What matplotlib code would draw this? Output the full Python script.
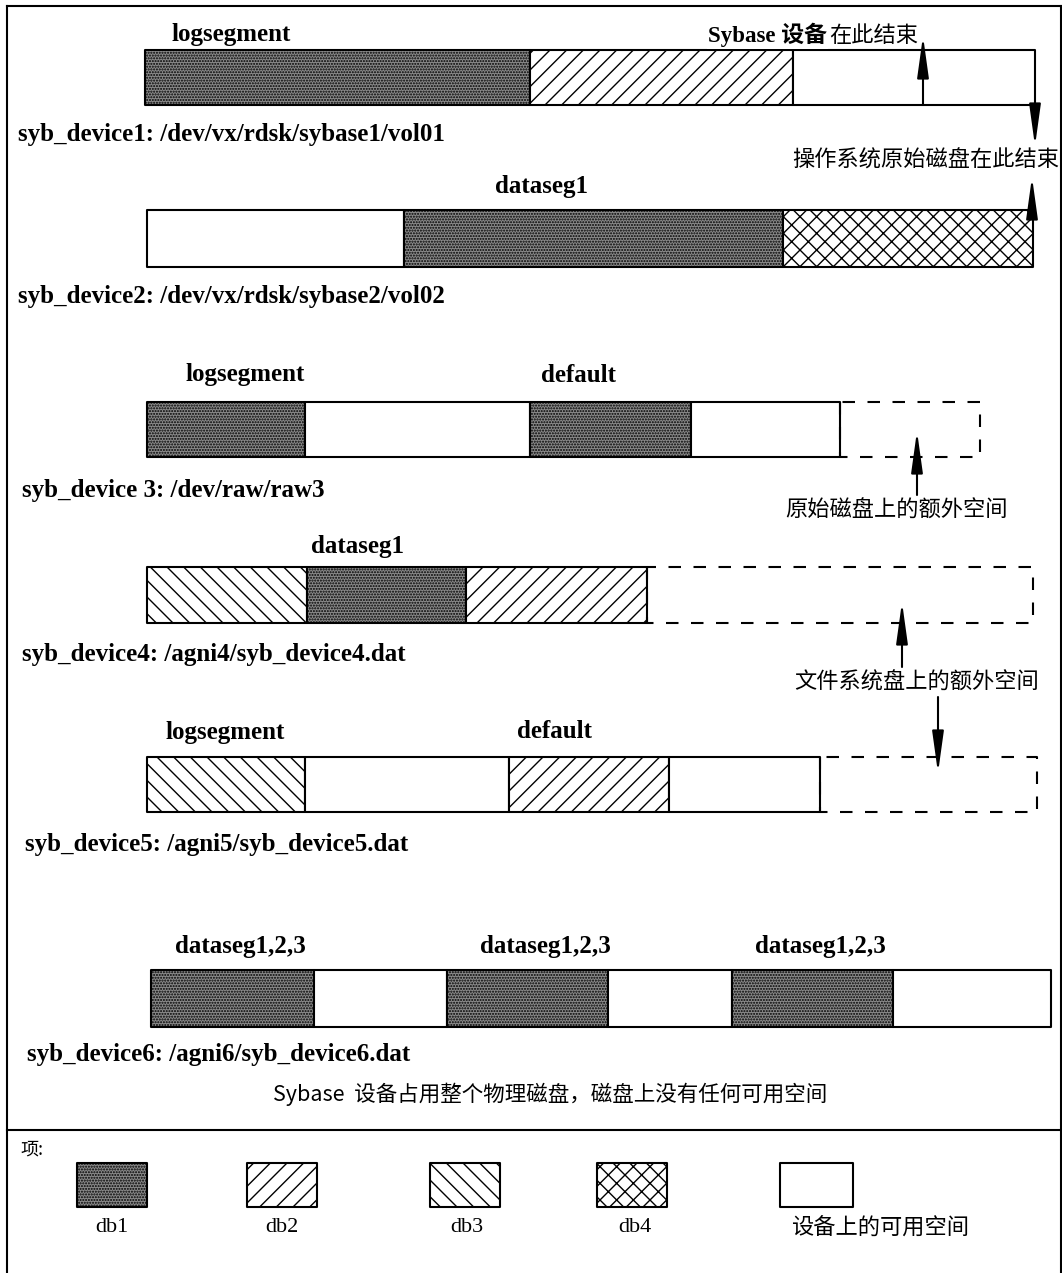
import matplotlib.pyplot as plt

plt.rcParams['font.family'] = ['Liberation Serif', 'Noto Sans CJK SC']
plt.rcParams['hatch.linewidth'] = 1.0

# segment edges (pixel scale of the original drawing) and kinds per device
dev1_edges = [145, 530, 793, 1035]
dev1_kinds = ['db1', 'db2', 'free']
dev2_edges = [147, 404, 783, 1033]
dev2_kinds = ['free', 'db1', 'db4']
dev3_edges = [147, 305, 530, 691, 840, 980]
dev3_kinds = ['db1', 'free', 'db1', 'free', 'extra']
dev4_edges = [147, 307, 466, 647, 1033]
dev4_kinds = ['db3', 'db1', 'db2', 'extra']
dev5_edges = [147, 305, 509, 669, 820, 1037]
dev5_kinds = ['db3', 'free', 'db2', 'free', 'extra']
dev6_edges = [151, 314, 447, 608, 732, 893, 1051]
dev6_kinds = ['db1', 'free', 'db1', 'free', 'db1', 'free']

dev_names = ['syb_device1: /dev/vx/rdsk/sybase1/vol01',
             'syb_device2: /dev/vx/rdsk/sybase2/vol02',
             'syb_device 3: /dev/raw/raw3',
             'syb_device4: /agni4/syb_device4.dat',
             'syb_device5: /agni5/syb_device5.dat',
             'syb_device6: /agni6/syb_device6.dat']

seg_labels = [('logsegment', 0, 231), ('dataseg1', 1, 542),
              ('logsegment', 2, 245), ('default', 2, 578),
              ('dataseg1', 3, 357),
              ('logsegment', 4, 225), ('default', 4, 555),
              ('dataseg1,2,3', 5, 240), ('dataseg1,2,3', 5, 545), ('dataseg1,2,3', 5, 820)]

legend_kinds = ['db1', 'db2', 'db3', 'db4', 'free']
legend_names = ['db1', 'db2', 'db3', 'db4', '设备上的可用空间']

# layout
bar_top = [50, 210, 402, 567, 757, 970]
bar_h = [55, 57, 55, 56, 55, 57]
name_pos = [(18, 134), (18, 297), (22, 491), (22, 654), (25, 844), (27, 1054)]
seg_label_y = [35, 187, 375, 547, 732, 946]

styles = {
    'db1': dict(facecolor='#8a8a8a', hatch='......', edgecolor='black', linewidth=1.5),
    'db2': dict(facecolor='white', hatch='//', edgecolor='black', linewidth=1.5),
    'db3': dict(facecolor='white', hatch='\\\\', edgecolor='black', linewidth=1.5),
    'db4': dict(facecolor='white', hatch='xx', edgecolor='black', linewidth=1.5),
    'free': dict(facecolor='white', edgecolor='black', linewidth=1.5),
    'extra': dict(facecolor='none', edgecolor='black', linewidth=1.5,
                  linestyle=(0, (6, 6))),
}

fig = plt.figure(figsize=(10.62, 12.73), dpi=100)
ax = fig.add_axes([0, 0, 1, 1])
ax.set_xlim(0, 1062)
ax.set_ylim(1273, 0)
ax.axis('off')

all_edges = [dev1_edges, dev2_edges, dev3_edges, dev4_edges, dev5_edges, dev6_edges]
all_kinds = [dev1_kinds, dev2_kinds, dev3_kinds, dev4_kinds, dev5_kinds, dev6_kinds]

for i, (edges, kinds) in enumerate(zip(all_edges, all_kinds)):
    for k, kind in enumerate(kinds):
        ax.broken_barh([(edges[k], edges[k + 1] - edges[k])], (bar_top[i], bar_h[i]),
                       **styles[kind])
    ax.text(name_pos[i][0], name_pos[i][1], dev_names[i], fontsize=18,
            fontweight='bold', va='center', ha='left')

for txt, row, xc in seg_labels:
    ax.text(xc, seg_label_y[row], txt, fontsize=18, fontweight='bold',
            ha='center', va='center')

# frame
ax.plot([7, 7], [6, 1273], color='black', lw=1.5)
ax.plot([7, 1061], [6, 6], color='black', lw=1.5)
ax.plot([1061, 1061], [6, 1273], color='black', lw=1.5)
ax.plot([7, 1061], [1130, 1130], color='black', lw=1.5)

# arrows: (x, tail y, tip y)
arrows = [(923, 105, 36), (1035, 105, 146), (1032, 210, 177),
          (917, 495, 431), (902, 667, 602), (938, 697, 773)]
for x, y0, y1 in arrows:
    ax.annotate('', xy=(x, y1), xytext=(x, y0),
                arrowprops=dict(arrowstyle='-|>,head_length=1.8,head_width=0.25',
                                color='black', lw=1.5, mutation_scale=14,
                                shrinkA=0, shrinkB=0))

cjk = ['Noto Sans CJK SC', 'Liberation Serif']
ax.text(827, 35, 'Sybase 设备', fontsize=16.5, fontweight='bold',
        ha='right', va='center', family=['Liberation Serif', 'Noto Sans CJK SC'],
        bbox=dict(facecolor='white', edgecolor='none', pad=1))
ax.text(829, 35, '在此结束', fontsize=16, ha='left', va='center', family=cjk,
        bbox=dict(facecolor='white', edgecolor='none', pad=1))
ax.text(926, 160, '操作系统原始磁盘在此结束', fontsize=16, ha='center', va='center', family=cjk)
ax.text(896, 510, '原始磁盘上的额外空间', fontsize=16, ha='center', va='center', family=cjk)
ax.text(917, 682, '文件系统盘上的额外空间', fontsize=16, ha='center', va='center', family=cjk)
ax.text(550, 1094, 'Sybase  设备占用整个物理磁盘，磁盘上没有任何可用空间', fontsize=15.5,
        ha='center', va='center', family=cjk)
ax.text(20, 1150, '项:', fontsize=13, ha='left', va='center', family=cjk)

# legend
leg_x = [77, 247, 430, 597, 780]
leg_w = [70, 70, 70, 70, 73]
leg_label_x = [112, 282, 467, 635, 880]
for i, kind in enumerate(legend_kinds):
    ax.broken_barh([(leg_x[i], leg_w[i])], (1163, 44), **styles[kind])
    ax.text(leg_label_x[i], 1228, legend_names[i], fontsize=16, ha='center',
            va='center', family=cjk if i == 4 else ['Liberation Serif'])

fig.savefig('out.png', dpi=100)
